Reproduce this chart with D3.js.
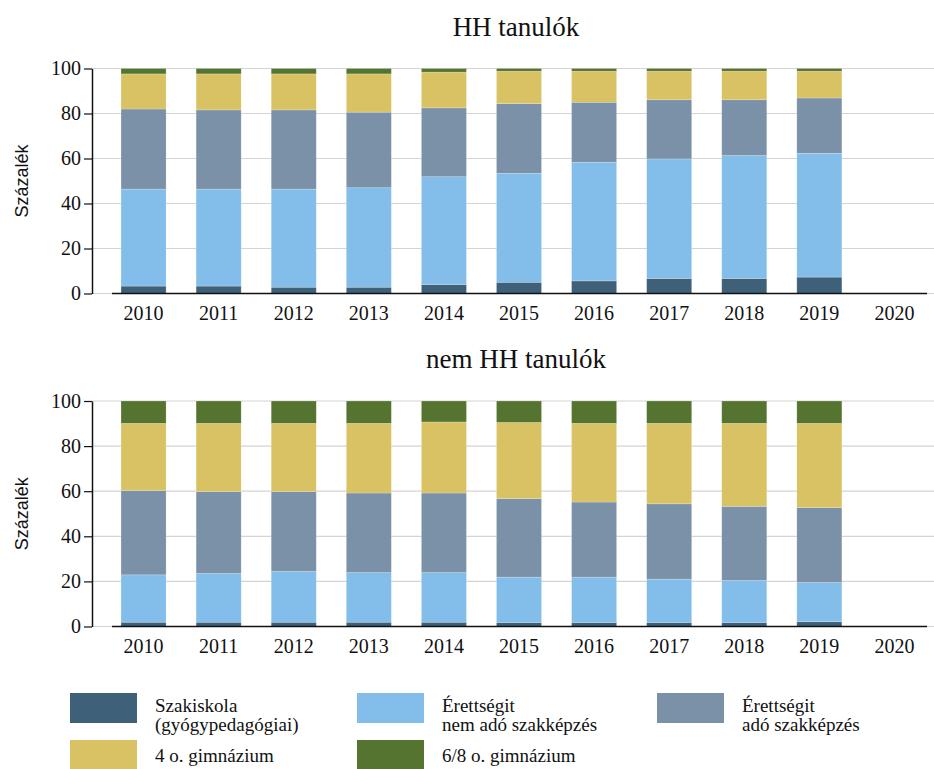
<!DOCTYPE html>
<html>
<head>
<meta charset="utf-8">
<script src="https://cdn.jsdelivr.net/npm/d3@7"></script>
<style>
  body { margin: 0; background: #fff; }
  text { font-family: "Liberation Serif", "Times New Roman", serif; fill: #111; }
</style>
</head>
<body>
<script>
// years on the x axis (2020 has no data)
var years = ["2010","2011","2012","2013","2014","2015","2016","2017","2018","2019","2020"];
var keys = ["szak", "nemAdo", "ado", "gimn4", "gimn68"];
var labels = [["Szakiskola", "(gyógypedagógiai)"], ["Érettségit", "nem adó szakképzés"],
              ["Érettségit", "adó szakképzés"], ["4 o. gimnázium"], ["6/8 o. gimnázium"]];
var colors = ["#3e6179", "#82bee9", "#7b91a8", "#d9c263", "#54742f"];
var yTicks = [0, 20, 40, 60, 80, 100];

// HH tanulók, percent by year 2010-2019
var hhSzak   = [3.3, 3.3, 2.8, 2.8, 4.0, 5.0, 5.6, 6.7, 6.7, 7.3];
var hhNemAdo = [43.1, 43.1, 43.6, 44.2, 47.9, 48.4, 52.7, 53.1, 54.6, 55.0];
var hhAdo    = [35.6, 35.2, 35.2, 33.6, 30.6, 31.0, 26.7, 26.3, 24.8, 24.6];
var hhGimn4  = [15.6, 16.0, 16.0, 17.0, 15.9, 14.4, 13.8, 12.7, 12.7, 11.9];
var hhGimn68 = [2.4, 2.4, 2.4, 2.4, 1.6, 1.2, 1.2, 1.2, 1.2, 1.2];

// nem HH tanulók
var nhSzak   = [1.9, 1.9, 1.9, 1.9, 1.9, 1.8, 1.8, 1.8, 1.8, 2.1];
var nhNemAdo = [21.0, 21.6, 22.5, 22.0, 22.0, 20.1, 20.1, 19.2, 18.6, 17.4];
var nhAdo    = [37.4, 36.3, 35.4, 35.3, 35.3, 34.8, 33.3, 33.4, 32.9, 33.2];
var nhGimn4  = [29.8, 30.3, 30.3, 30.9, 31.5, 33.8, 34.9, 35.7, 36.8, 37.4];
var nhGimn68 = [9.9, 9.9, 9.9, 9.9, 9.3, 9.5, 9.9, 9.9, 9.9, 9.9];

function rows(a, b, c, d, e){
    return a.map(function(v, i){
        return {year: years[i], szak: v, nemAdo: b[i], ado: c[i], gimn4: d[i], gimn68: e[i]};
    });
}

var width = 934, height = 769;
var svg = d3.select("body").append("svg")
    .attr("width", width)
    .attr("height", height);

var x = d3.scaleBand()
    .domain(years)
    .range([106, 932])
    .paddingInner(0.4)
    .paddingOuter(0.2);

var stack = d3.stack().keys(keys);

function drawPanel(title, data, top, bottom){
    var y = d3.scaleLinear().domain([0, 100]).range([bottom, top]);
    var g = svg.append("g");

    //gridlines
    g.selectAll(".grid")
        .data(yTicks)
        .enter()
        .append("line")
        .attr("x1", 92).attr("x2", 934)
        .attr("y1", function(d){ return y(d); })
        .attr("y2", function(d){ return y(d); })
        .attr("stroke", "#d4d4d4")
        .attr("stroke-width", 1.2);

    //stacked bars
    var series = stack(data);
    g.selectAll(".layer")
        .data(series)
        .enter()
        .append("g")
        .attr("fill", function(d, i){ return colors[i]; })
        .selectAll("rect")
        .data(function(d){ return d; })
        .enter()
        .append("rect")
        .attr("x", function(d){ return x(d.data.year); })
        .attr("width", x.bandwidth())
        .attr("y", function(d){ return y(d[1]); })
        .attr("height", function(d){ return y(d[0]) - y(d[1]); })
        .attr("stroke", "rgba(255,255,255,0.35)")
        .attr("stroke-width", 0.6);

    //x axis line and labels
    g.append("line")
        .attr("x1", 112).attr("x2", 927)
        .attr("y1", y(0)).attr("y2", y(0))
        .attr("stroke", "#111").attr("stroke-width", 1.5);
    g.selectAll(".xlab")
        .data(years)
        .enter()
        .append("text")
        .attr("x", function(d){ return x(d) + x.bandwidth() / 2; })
        .attr("y", y(0) + 26)
        .attr("text-anchor", "middle")
        .style("font-size", "20px")
        .text(function(d){ return d; });

    //y axis
    var yAxis = g.append("g")
        .attr("transform", "translate(92,0)")
        .call(d3.axisLeft(y).tickValues(yTicks).tickSize(8).tickSizeOuter(0).tickPadding(3));
    yAxis.select(".domain").attr("stroke", "#111").attr("stroke-width", 1.5);
    yAxis.selectAll(".tick line").attr("stroke", "#111").attr("stroke-width", 1.2);
    yAxis.selectAll(".tick text")
        .style("font-family", "'Liberation Serif', 'Times New Roman', serif")
        .style("font-size", "20px")
        .attr("fill", "#111");

    //y label
    g.append("text")
        .attr("transform", "translate(28," + ((top + bottom) / 2) + ") rotate(-90)")
        .attr("text-anchor", "middle")
        .style("font-family", "'Liberation Sans', Arial, sans-serif")
        .style("font-size", "18px")
        .text("Százalék");

    //title
    g.append("text")
        .attr("x", 516)
        .attr("y", top - 33)
        .attr("text-anchor", "middle")
        .style("font-size", "27px")
        .text(title);
}

drawPanel("HH tanulók", rows(hhSzak, hhNemAdo, hhAdo, hhGimn4, hhGimn68), 68.5, 293.5);
drawPanel("nem HH tanulók", rows(nhSzak, nhNemAdo, nhAdo, nhGimn4, nhGimn68), 401, 626.5);

//legend
var legendPos = [[70, 693], [357, 693], [657, 693], [70, 740], [357, 740]];
var legend = svg.selectAll(".legend")
    .data(keys)
    .enter()
    .append("g")
    .attr("transform", function(d, i){ return "translate(" + legendPos[i][0] + "," + legendPos[i][1] + ")"; });

legend.append("rect")
    .attr("width", 67)
    .attr("height", 30)
    .attr("fill", function(d, i){ return colors[i]; });

legend.each(function(d, i){
    var lines = labels[i];
    var t = d3.select(this).append("text")
        .attr("x", 85)
        .style("font-size", "19px");
    lines.forEach(function(l, j){
        t.append("tspan")
            .attr("x", 85)
            .attr("y", lines.length === 1 ? 22 : 19 + j * 19)
            .text(l);
    });
});
</script>
</body>
</html>
